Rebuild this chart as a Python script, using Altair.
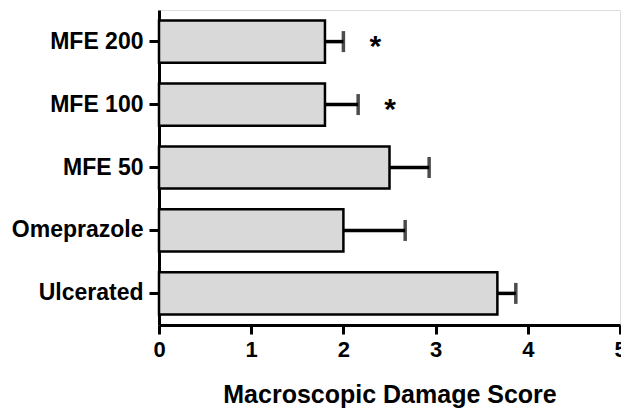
import altair as alt
import pandas as pd

categories = ["MFE 200", "MFE 100", "MFE 50", "Omeprazole", "Ulcerated"]
means = [1.80, 1.80, 2.50, 2.00, 3.67]
upper = [2.00, 2.16, 2.93, 2.67, 3.87]
signif = ["*", "*", "", "", ""]

df = pd.DataFrame({"group": categories, "mean": means, "upper": upper, "sig": signif})

FONT = "Liberation Sans"

y_enc = alt.Y("group:N", sort=categories, title=None,
              scale=alt.Scale(paddingInner=0.33, paddingOuter=0.167),
              axis=alt.Axis(labelFontSize=23, labelFont=FONT, labelFontWeight="bold",
                            labelColor="black", tickColor="black", tickWidth=3,
                            tickSize=10, labelPadding=6, domainColor="black",
                            domainWidth=3, grid=False))

x_scale = alt.Scale(domain=[0, 5], nice=False)
x_axis = alt.Axis(values=[0, 1, 2, 3, 4, 5], format="d", labelFlush=False,
                  labelFontSize=22, labelFont=FONT,
                  labelFontWeight="bold", labelColor="black", tickColor="black",
                  tickWidth=3, tickSize=9, labelPadding=5, domainColor="black",
                  domainWidth=3, grid=False, title="Macroscopic Damage Score",
                  titleFont=FONT, titleFontSize=25, titleFontWeight="bold",
                  titleColor="black", titlePadding=22)

base = alt.Chart(df)

bars = base.mark_bar(fill="#d9d9d9", stroke="black", strokeWidth=2.5).encode(
    x=alt.X("mean:Q", scale=x_scale, axis=x_axis),
    y=y_enc,
)

err = base.mark_rule(color="black", strokeWidth=3.5).encode(
    x="mean:Q", x2="upper:Q", y=alt.Y("group:N", sort=categories)
)

caps = base.mark_tick(color="black", thickness=3.5, size=21, orient="vertical").encode(
    x="upper:Q", y=alt.Y("group:N", sort=categories)
)

stars = base.mark_text(fontSize=30, font=FONT, fontWeight="bold", color="black",
                       dx=32, dy=5, baseline="middle", align="center").encode(
    x="upper:Q", y=alt.Y("group:N", sort=categories), text="sig:N"
)

chart = alt.layer(bars, err, caps, stars).properties(
    width=461, height=315,
    autosize=alt.AutoSizeParams(type="none"),
    padding={"left": 151, "top": 2, "right": 1, "bottom": 86},
).configure_view(stroke=None).configure(background="white")

chart.save("out.html", embed_options={"renderer": "svg", "actions": False})
